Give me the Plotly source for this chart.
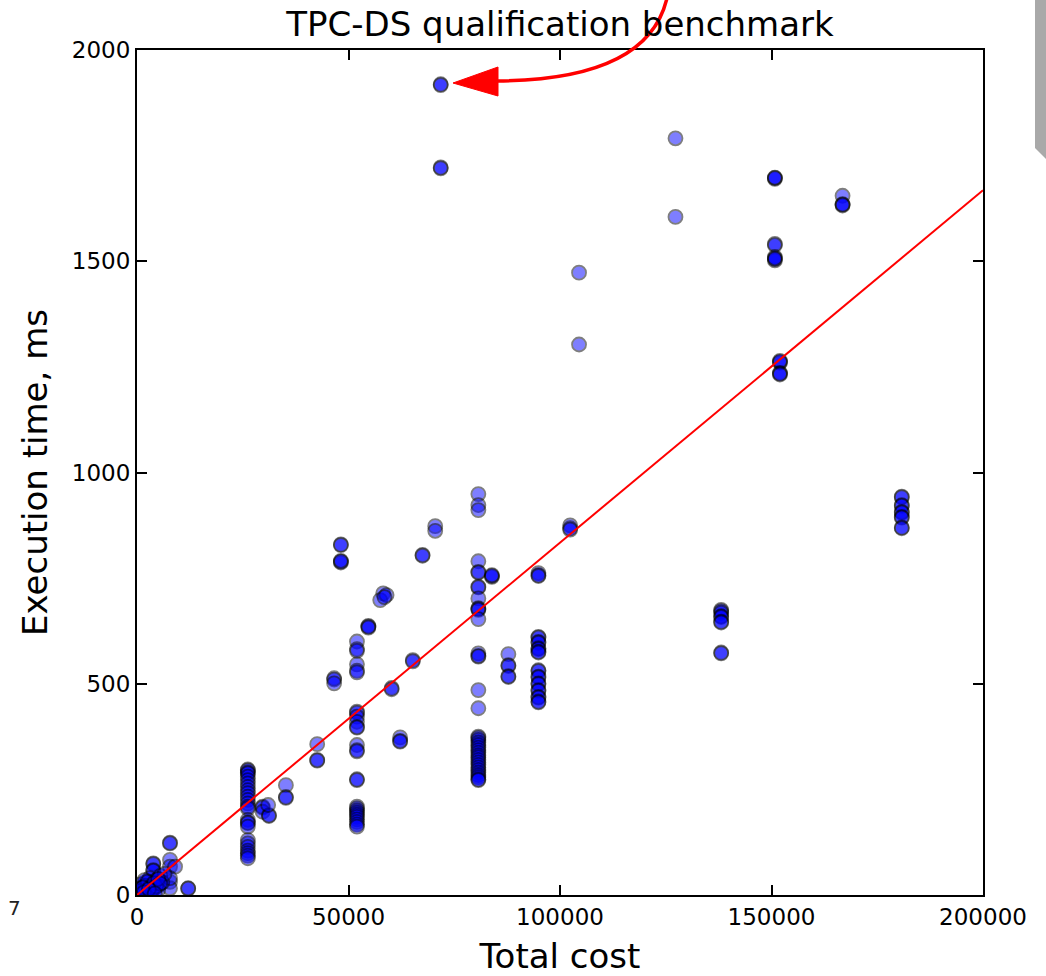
import plotly.graph_objects as go

# ---- data (Total cost, Execution time ms); repeated runs overlap ----
cost = [
    71800, 71800, 71800, 71800,
    127300, 127300, 104500, 104500,
    150800, 150800, 150800, 150800, 150800, 150800, 150800, 150800, 150800,
    166800, 166800, 166800, 166800,
    152000, 152000, 152000, 152000, 152000, 152000,
    180800, 180800, 180800, 180800, 180800, 180800, 180800, 180800, 180800, 180800,
    138100, 138100, 138100, 138100, 138100, 138100, 138100, 138100, 138100,
    102400, 102400, 102400,
    94900, 94900, 94900,
    94900, 94900, 94900, 94900, 94900, 94900, 94900, 94900,
    94900, 94900, 94900, 94900, 94900, 94900, 94900, 94900, 94900, 94900, 94900, 94900,
    87800, 87800, 87800, 87800, 87800,
    83900, 83900, 83900,
    80700, 80700, 80700,
    80700, 80700, 80700, 80700, 80700, 80700, 80700, 80700, 80700,
    80700, 80700, 80700, 80700, 80700, 80700,
    80700, 80700, 80700, 80700, 80700, 80700, 80700, 80700, 80700, 80700,
    80700, 80700, 80700, 80700, 80700, 80700, 80700, 80700, 80700, 80700,
    70500, 70500,
    67500, 67500,
    58200, 57500, 59000, 58500,
    54700, 54700, 54700,
    48200, 48200, 48200, 48200, 48200,
    52000, 52000, 52000,
    52000, 52000, 52000,
    46600, 46600, 46600,
    65200, 65200,
    60200, 60200,
    52000, 52000, 52000, 52000, 52000, 52000,
    62200, 62200, 62200,
    52000, 52000, 52000,
    52000, 52000,
    52000, 52000, 52000, 52000, 52000, 52000, 52000, 52000, 52000, 52000,
    42600, 42600, 42600,
    35200, 35200, 35200,
    29700, 29700, 29700, 31200, 31200, 31000,
    26200, 26200, 26200, 26200, 26200, 26200, 26200, 26200, 26200, 26200,
    26200, 26200, 26200, 26200, 26200, 26200, 26200, 26200, 26200, 26200,
    26200, 26200, 26200, 26200, 26200, 26200,
    7800, 7800,
    3850, 3850, 3850, 3850,
    7800, 7800, 9000, 7800, 7800, 7800,
    12100, 12100,
    1000, 1500, 2000, 2500, 3000, 3500, 4000, 4500, 5000, 5500,
    6000, 1200, 2200, 6500, 5000, 3000, 800, 1800,
    1000, 1500, 2000, 2500, 3000, 3500, 4000, 4500, 5000, 5500,
    600, 900, 1300, 1600, 2800, 4200,
]
exec_ms = [
    1919, 1917, 1722, 1720,
    1791, 1605, 1473, 1303,
    1695, 1697, 1698, 1541, 1538, 1510, 1502, 1505, 1507,
    1655, 1635, 1632, 1634,
    1262, 1260, 1264, 1236, 1234, 1232,
    943, 941, 923, 921, 907, 905, 895, 893, 870, 868,
    675, 672, 668, 660, 658, 647, 645, 574, 572,
    875, 868, 865,
    762, 757, 755,
    611, 609, 599, 597, 584, 582, 576, 574,
    532, 530, 517, 515, 501, 499, 485, 483, 469, 467, 458, 456,
    570, 544, 542, 518, 516,
    753, 755, 757,
    949, 923, 911,
    790, 765, 763, 730, 728, 702, 679, 677, 675,
    653, 572, 564, 566, 485, 442,
    375, 372, 367, 361, 355, 349, 343, 337, 331, 326,
    320, 314, 308, 302, 296, 290, 284, 279, 274, 272,
    873, 862,
    805, 803,
    714, 698, 710, 705,
    637, 635, 633,
    830, 828, 789, 787, 791,
    600, 582, 578,
    546, 531, 527,
    513, 510, 501,
    556, 553,
    490, 487,
    434, 431, 422, 410, 398, 396,
    373, 365, 363,
    355, 343, 340,
    274, 272,
    209, 205, 200, 195, 190, 185, 179, 173, 167, 162,
    357, 320, 318,
    260, 232, 230,
    209, 207, 197, 189, 187, 213,
    297, 295, 290, 288, 280, 272, 264, 256, 248, 241,
    233, 225, 217, 209, 205, 178, 172, 170, 162, 130,
    122, 114, 105, 99, 93, 87,
    124, 122,
    75, 73, 59, 57,
    83, 67, 67, 31, 16, 40,
    16, 15,
    5, 20, 30, 10, 40, 25, 15, 35, 22, 45,
    30, 12, 8, 50, 12, 5, 25, 35,
    15, 8, 22, 32, 18, 10, 28, 20, 38, 27,
    3, 10, 18, 6, 14, 4,
]

# fitted trend line end points
fit_x = [0, 200000]
fit_y = [0, 1668]

x_ticks = [0, 50000, 100000, 150000, 200000]
y_ticks = [0, 500, 1000, 1500, 2000]

title_text = "TPC-DS qualification benchmark"
x_title = "Total cost"
y_title = "Execution time, ms"

W, H = 1046, 976
L, R, T, B = 137, 63, 50, 81
PW, PH = W - L - R, H - T - B


def px(xp, yp):
    return (xp - L) / PW, (H - B - yp) / PH


fig = go.Figure()
fig.add_trace(go.Scatter(
    x=cost, y=exec_ms, mode="markers",
    marker=dict(size=14, color="blue", opacity=0.5,
                line=dict(color="black", width=1.8)),
    showlegend=False, cliponaxis=True,
))
fig.add_trace(go.Scatter(
    x=fit_x, y=fit_y, mode="lines",
    line=dict(color="red", width=2), showlegend=False,
))

# curved red arrow (annotation)
p0 = px(667, -2)
p1 = px(648, 80)
p2 = px(497, 81)
curve = f"M {p0[0]},{p0[1]} Q {p1[0]},{p1[1]} {p2[0]},{p2[1]}"
t1, t2, t3 = px(453, 83), px(498, 67), px(498, 96)
head = f"M {t1[0]},{t1[1]} L {t2[0]},{t2[1]} L {t3[0]},{t3[1]} Z"

g1, g2, g3, g4 = px(1035, -2), px(1047, -2), px(1047, 160), px(1035, 148)
gray = f"M {g1[0]},{g1[1]} L {g2[0]},{g2[1]} L {g3[0]},{g3[1]} L {g4[0]},{g4[1]} Z"

seven = px(15, 908)

fig.update_layout(
    width=W, height=H,
    margin=dict(l=L, r=R, t=T, b=B, autoexpand=False),
    paper_bgcolor="white", plot_bgcolor="white",
    font=dict(family="DejaVu Sans", color="black"),
    title=dict(text=title_text, x=(L + PW / 2) / W, xanchor="center",
               y=1 - 24 / H, yanchor="middle",
               font=dict(size=34, family="DejaVu Sans", color="black")),
    xaxis=dict(range=[0, 200000], tickvals=x_ticks,
               ticktext=[str(v) for v in x_ticks],
               ticks="inside", ticklen=10, tickwidth=1.5, tickcolor="black",
               showline=True, linewidth=2, linecolor="black", mirror="ticks",
               showgrid=False, zeroline=False,
               tickfont=dict(size=23, family="DejaVu Sans"),
               title=dict(text=x_title, standoff=16,
                          font=dict(size=34, family="DejaVu Sans"))),
    yaxis=dict(range=[0, 2000], tickvals=y_ticks,
               ticktext=[str(v) for v in y_ticks],
               ticks="inside", ticklen=10, tickwidth=1.5, tickcolor="black",
               showline=True, linewidth=2, linecolor="black", mirror="ticks",
               showgrid=False, zeroline=False,
               tickfont=dict(size=23, family="DejaVu Sans"),
               title=dict(text=y_title, standoff=14,
                          font=dict(size=34, family="DejaVu Sans"))),
    shapes=[
        dict(type="path", path=curve, xref="paper", yref="paper",
             line=dict(color="red", width=3.5), layer="above"),
        dict(type="path", path=head, xref="paper", yref="paper",
             line=dict(color="red", width=1), fillcolor="red", layer="above"),
        dict(type="path", path=gray, xref="paper", yref="paper",
             line=dict(width=0), fillcolor="#a9a9a9", layer="above"),
    ],
    annotations=[
        dict(text="7", x=seven[0], y=seven[1], xref="paper", yref="paper",
             showarrow=False, font=dict(size=20, color="#222222"),
             xanchor="center", yanchor="middle"),
    ],
)

fig.write_html("out.html")
